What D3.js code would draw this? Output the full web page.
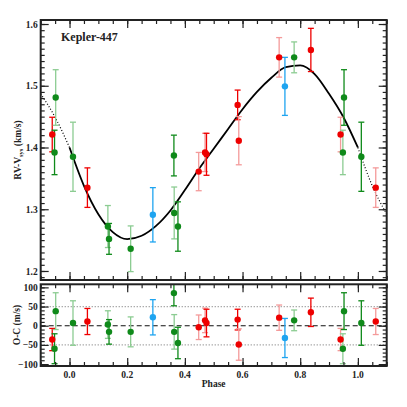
<!DOCTYPE html>
<html>
<head>
<meta charset="utf-8">
<script src="https://cdn.jsdelivr.net/npm/d3@7"></script>
<style>
  body { margin: 0; background: #fff; }
  text { font-family: "Liberation Serif", "DejaVu Serif", serif; font-weight: bold; fill: #222; }
</style>
</head>
<body>
<script>
var width = 407,
    height = 407;

// observations (unique phases); points near 0 / 1 are repeated one cycle over
var instrument = ["red", "green", "green", "green", "green", "blue", "green", "green", "green", "red", "red",
                  "red", "red", "red", "red", "blue", "green", "red", "red", "green", "green"];
var phase  = [0.062, 0.012, 0.133, 0.137, 0.212, 0.289, 0.362, 0.363, 0.376, 0.448, 0.470,
              0.475, 0.583, 0.587, 0.727, 0.747, 0.779, 0.837, 0.940, 0.952, 0.948];
var rv     = [1.335, 1.385, 1.272, 1.252, 1.236, 1.291, 1.387, 1.294, 1.272, 1.361, 1.392,
              1.389, 1.469, 1.411, 1.546, 1.499, 1.546, 1.558, 1.421, 1.481, 1.392];
var rvErr  = [0.032, 0.056, 0.034, 0.025, 0.037, 0.044, 0.033, 0.042, 0.040, 0.031, 0.031,
              0.034, 0.024, 0.039, 0.032, 0.047, 0.025, 0.035, 0.028, 0.045, 0.036];
var oc     = [11, 7, 3, -16, -16, 22, 85, -16, -45, -4, 14,
              7, 16, -49, 21, -32, 14, 35, -36, 38, -60];
var ocErr  = [34, 58, 36, 32, 39, 46, 33, 45, 41, 32, 32,
              36, 27, 41, 33, 51, 27, 37, 29, 48, 39];
var season = [1, 2, 2, 1, 2, 1, 1, 2, 1, 2, 2,
              1, 1, 2, 2, 1, 2, 1, 2, 1, 2];

// orbital fit
var fitPhase = [-0.10, -0.05, 0.00, 0.05, 0.10, 0.15, 0.20, 0.25, 0.30, 0.35, 0.40, 0.45, 0.50,
                0.55, 0.60, 0.65, 0.70, 0.75, 0.80, 0.85, 0.90, 0.95, 1.00, 1.05, 1.10];
var fitRV    = [1.487, 1.449, 1.400, 1.338, 1.292, 1.263, 1.2516, 1.257, 1.273, 1.298, 1.331, 1.366, 1.398,
                1.430, 1.462, 1.490, 1.513, 1.530, 1.533, 1.519, 1.487, 1.449, 1.400, 1.338, 1.292];

var yTicksTop = [1.2, 1.3, 1.4, 1.5, 1.6];
var yTicksBot = [-100, -50, 0, 50, 100];
var xTicks = [0.0, 0.2, 0.4, 0.6, 0.8, 1.0];

var dark = {red: "#ee0000", green: "#0f8a1a", blue: "#1ea4f0"};
var pale = {red: "#f49a9a", green: "#8ccc92", blue: "#8fd0f6"};

var L = 40.7, R = 386.7;
var x = d3.scaleLinear().domain([-0.1, 1.1]).range([L, R]);
var yT = d3.scaleLinear().domain([1.1854, 1.6065]).range([280, 20]);
var yB = d3.scaleLinear().domain([-105, 108]).range([366, 284.3]);

var pts = [];
phase.forEach(function(p, i) {
  var d = {ph: p, rv: rv[i], re: rvErr[i], oc: oc[i], oe: ocErr[i], ins: instrument[i], faded: season[i] == 2};
  pts.push(d);
  if (p < 0.1) pts.push(Object.assign({}, d, {ph: p + 1, faded: !d.faded}));
  if (p > 0.9) pts.push(Object.assign({}, d, {ph: p - 1, faded: !d.faded}));
});

var svg = d3.select("body").append("svg")
    .attr("width", width)
    .attr("height", height);

function frame(y, major, minor, labels, fmt) {
  var g = svg.append("g");
  var y0 = y.range()[0], y1 = y.range()[1];
  var minorX = d3.range(-0.1, 1.1001, 0.05);
  function ax(axis, tx, ty) {
    var a = g.append("g").attr("transform", "translate(" + tx + "," + ty + ")").call(axis);
    a.select(".domain").remove();
    a.selectAll("line").attr("stroke", "#222").attr("stroke-width", 1.2);
    return a;
  }
  ax(d3.axisBottom(x).tickValues(xTicks).tickSize(-8).tickFormat(""), 0, y0);
  ax(d3.axisBottom(x).tickValues(minorX).tickSize(-4).tickFormat(""), 0, y0);
  ax(d3.axisTop(x).tickValues(xTicks).tickSize(-8).tickFormat(""), 0, y1);
  ax(d3.axisTop(x).tickValues(minorX).tickSize(-4).tickFormat(""), 0, y1);
  var la = ax(d3.axisLeft(y).tickValues(major).tickSize(-8).tickPadding(3).tickFormat(fmt), L, 0);
  la.selectAll("text").attr("x", -3).style("font-size", "9.5px").style("font-family", null);
  ax(d3.axisLeft(y).tickValues(minor).tickSize(-4).tickFormat(""), L, 0);
  ax(d3.axisRight(y).tickValues(major).tickSize(-8).tickFormat(""), R, 0);
  ax(d3.axisRight(y).tickValues(minor).tickSize(-4).tickFormat(""), R, 0);
  g.append("rect")
      .attr("x", L).attr("y", y1)
      .attr("width", R - L).attr("height", y0 - y1)
      .attr("fill", "none").attr("stroke", "#222").attr("stroke-width", 2);
  return g;
}

// reference lines in residual panel
svg.selectAll(".ref")
    .data([50, -50])
    .enter().append("line")
    .attr("x1", L).attr("x2", R)
    .attr("y1", function(d) { return yB(d); }).attr("y2", function(d) { return yB(d); })
    .attr("stroke", "#888").attr("stroke-width", 1.2).attr("stroke-dasharray", "1,2");
svg.append("line")
    .attr("x1", L).attr("x2", R).attr("y1", yB(0)).attr("y2", yB(0))
    .attr("stroke", "#111").attr("stroke-width", 1.2).attr("stroke-dasharray", "5,3");

// model curve
var fit = fitPhase.map(function(p, i) { return {ph: p, v: fitRV[i]}; });
var line = d3.line()
    .x(function(d) { return x(d.ph); })
    .y(function(d) { return yT(d.v); })
    .curve(d3.curveMonotoneX);
svg.append("path")
    .attr("d", line(fit.filter(function(d) { return d.ph >= -0.001 && d.ph <= 1.001; })))
    .attr("fill", "none").attr("stroke", "#000").attr("stroke-width", 1.8);
[fit.filter(function(d) { return d.ph <= 0.001; }), fit.filter(function(d) { return d.ph >= 0.999; })]
  .forEach(function(seg) {
    svg.append("path")
        .attr("d", line(seg))
        .attr("fill", "none").attr("stroke", "#000").attr("stroke-width", 1.2)
        .attr("stroke-dasharray", "1,2");
  });

function errorBars(val, err, y) {
  var g = svg.append("g");
  var eb = g.selectAll("g").data(pts).enter().append("g")
      .attr("stroke", function(d) { return d.faded ? pale[d.ins] : dark[d.ins]; })
      .attr("stroke-width", 1.3);
  eb.append("line")
      .attr("x1", function(d) { return x(d.ph); }).attr("x2", function(d) { return x(d.ph); })
      .attr("y1", function(d) { return y(Math.min(d[val] + d[err], y.domain()[1])); })
      .attr("y2", function(d) { return y(d[val] - d[err]); });
  [1, -1].forEach(function(s) {
    eb.filter(function(d) { return d[val] + s * d[err] <= y.domain()[1]; })
      .append("line")
      .attr("x1", function(d) { return x(d.ph) - 3; }).attr("x2", function(d) { return x(d.ph) + 3; })
      .attr("y1", function(d) { return y(d[val] + s * d[err]); })
      .attr("y2", function(d) { return y(d[val] + s * d[err]); });
  });
  g.selectAll("circle").data(pts).enter().append("circle")
      .attr("cx", function(d) { return x(d.ph); })
      .attr("cy", function(d) { return y(d[val]); })
      .attr("r", 3.2)
      .attr("fill", function(d) { return dark[d.ins]; });
}

errorBars("rv", "re", yT);
errorBars("oc", "oe", yB);

frame(yT, yTicksTop, d3.range(1.19, 1.6051, 0.01), true, d3.format(".1f"));
var bot = frame(yB, yTicksBot, d3.range(-100, 101, 10), true, d3.format("d"));

// phase labels
bot.selectAll(".xl")
    .data(xTicks)
    .enter().append("text")
    .attr("x", function(d) { return x(d); })
    .attr("y", 377.5)
    .attr("text-anchor", "middle")
    .style("font-size", "9.5px")
    .text(d3.format(".1f"));

svg.append("text")
    .attr("x", (L + R) / 2).attr("y", 387)
    .attr("text-anchor", "middle")
    .style("font-size", "9.5px")
    .text("Phase");

svg.append("text")
    .attr("x", 61).attr("y", 40.5)
    .style("font-size", "12px")
    .text("Kepler-447");

var yl = svg.append("text")
    .attr("transform", "translate(21,150) rotate(-90)")
    .attr("text-anchor", "middle")
    .style("font-size", "9.5px");
yl.append("tspan").text("RV-V");
yl.append("tspan").attr("dy", 2).style("font-size", "6.5px").text("sys");
yl.append("tspan").attr("dy", -2).text(" (km/s)");

svg.append("text")
    .attr("transform", "translate(20,325) rotate(-90)")
    .attr("text-anchor", "middle")
    .style("font-size", "9.5px")
    .text("O-C (m/s)");
</script>
</body>
</html>
